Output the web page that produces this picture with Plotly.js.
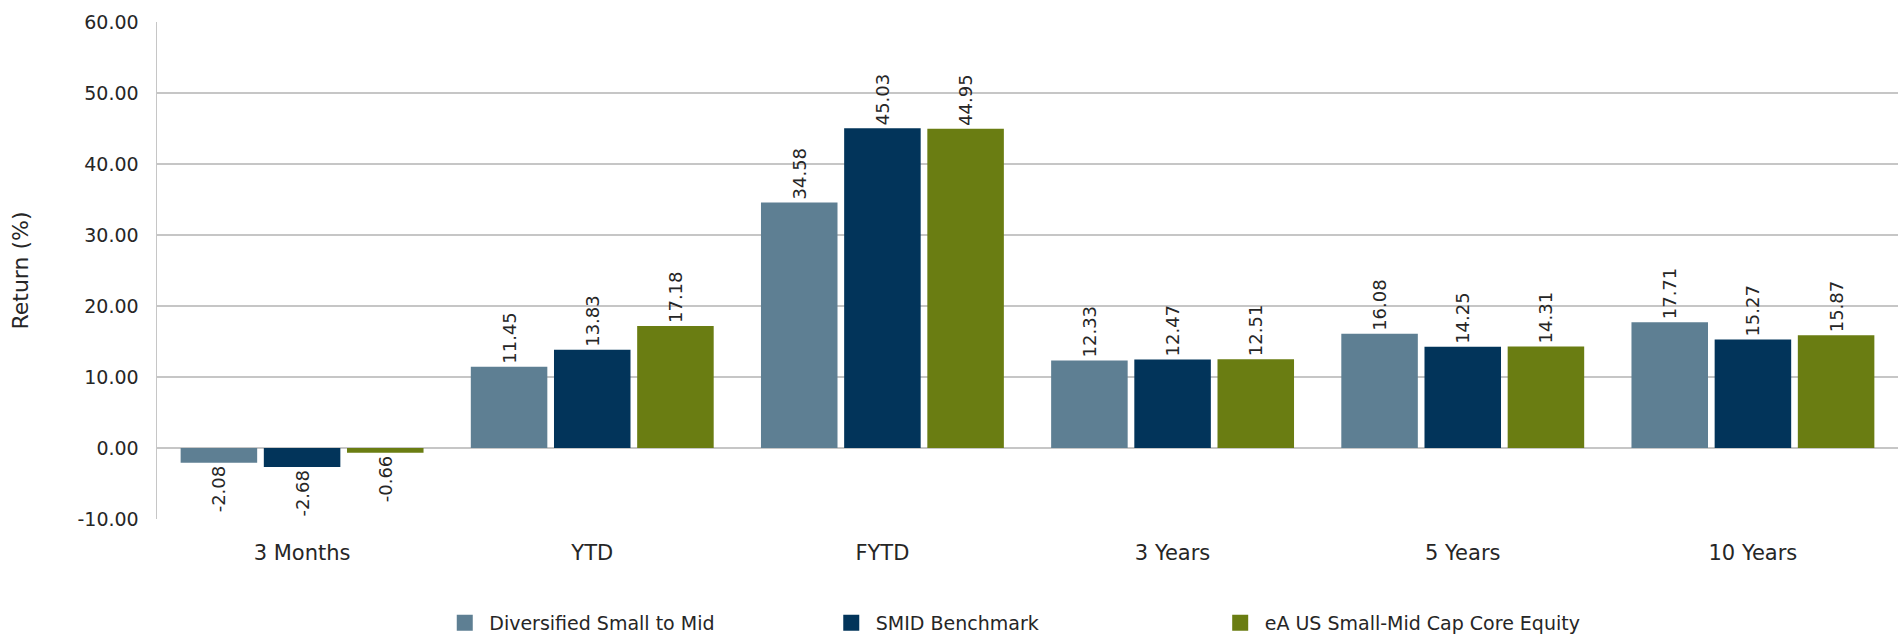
<!DOCTYPE html>
<html>
<head>
<meta charset="utf-8">
<script src="https://cdn.plot.ly/plotly-3.0.1.min.js"></script>
<style>html,body{margin:0;padding:0;background:#fff;}#chart{width:1900px;height:634px;}</style>
</head>
<body>
<div id="chart"></div>
<script>
const categories = ["3 Months", "YTD", "FYTD", "3 Years", "5 Years", "10 Years"];
const seriesNames = ["Diversified Small to Mid", "SMID Benchmark", "eA US Small-Mid Cap Core Equity"];
const diversified = [-2.08, 11.45, 34.58, 12.33, 16.08, 17.71];
const benchmark = [-2.68, 13.83, 45.03, 12.47, 14.25, 15.27];
const peerGroup = [-0.66, 17.18, 44.95, 12.51, 14.31, 15.87];
const yTickValues = [-10, 0, 10, 20, 30, 40, 50, 60];
const yTickLabels = ["-10.00", "0.00", "10.00", "20.00", "30.00", "40.00", "50.00", "60.00"];
const colors = ["#5E7F93", "#02345A", "#6A7D12"];
const FONT = "'DejaVu Sans', sans-serif";
const TXT = "#262626";

const allSeries = [diversified, benchmark, peerGroup];
const legendIds = ["legend", "legend2", "legend3"];
const barTraces = allSeries.map((vals, i) => ({
  type: "bar",
  name: seriesNames[i],
  legendgroup: "s" + i,
  showlegend: false,
  x: categories,
  y: vals,
  marker: {color: colors[i]},
  text: vals.map(v => v.toFixed(2)),
  textposition: "outside",
  textangle: -90,
  cliponaxis: false,
  textfont: {family: FONT, size: 18, color: TXT},
  hoverinfo: "x+y+name"
}));
// legend-only entries (larger square swatches like the reference)
const legendTraces = seriesNames.map((nm, i) => ({
  type: "scatter",
  mode: "markers",
  name: nm,
  legendgroup: "s" + i,
  legend: legendIds[i],
  x: [null],
  y: [null],
  marker: {symbol: "square", size: 16, color: colors[i]},
  hoverinfo: "skip"
}));

function legendAt(xp) {
  return {
    orientation: "h",
    x: xp,
    xanchor: "left",
    y: -0.171,
    yanchor: "top",
    itemwidth: 39,
    font: {family: FONT, size: 19, color: TXT},
    itemclick: false
  };
}

const layout = {
  width: 1900,
  height: 634,
  margin: {l: 157, r: 2, t: 22, b: 115, autoexpand: false},
  paper_bgcolor: "#fff",
  plot_bgcolor: "#fff",
  barmode: "group",
  bargap: 0.14,
  bargroupgap: 0.08,
  font: {family: FONT, size: 18, color: TXT},
  xaxis: {
    type: "category",
    categoryorder: "array",
    categoryarray: categories,
    showgrid: false,
    showline: false,
    ticks: "",
    tickfont: {family: FONT, size: 21, color: TXT},
    ticklabelstandoff: 19,
    zeroline: false,
    automargin: false
  },
  yaxis: {
    range: [-10, 60],
    tickmode: "array",
    tickvals: yTickValues,
    ticktext: yTickLabels,
    showgrid: true,
    gridcolor: "#C6C6C6",
    gridwidth: 1.5,
    zeroline: true,
    zerolinecolor: "#C6C6C6",
    zerolinewidth: 1.5,
    showline: true,
    linecolor: "#C6C6C6",
    linewidth: 1.5,
    ticks: "",
    ticklabelstandoff: 13,
    automargin: false,
    tickfont: {family: FONT, size: 19, color: TXT},
    title: {text: "Return (%)", font: {family: FONT, size: 22, color: TXT}, standoff: 43}
  },
  showlegend: true,
  legend: legendAt(0.1627),
  legend2: legendAt(0.3847),
  legend3: legendAt(0.6081)
};

Plotly.newPlot("chart", barTraces.concat(legendTraces), layout, {displayModeBar: false, staticPlot: true});
</script>
</body>
</html>
